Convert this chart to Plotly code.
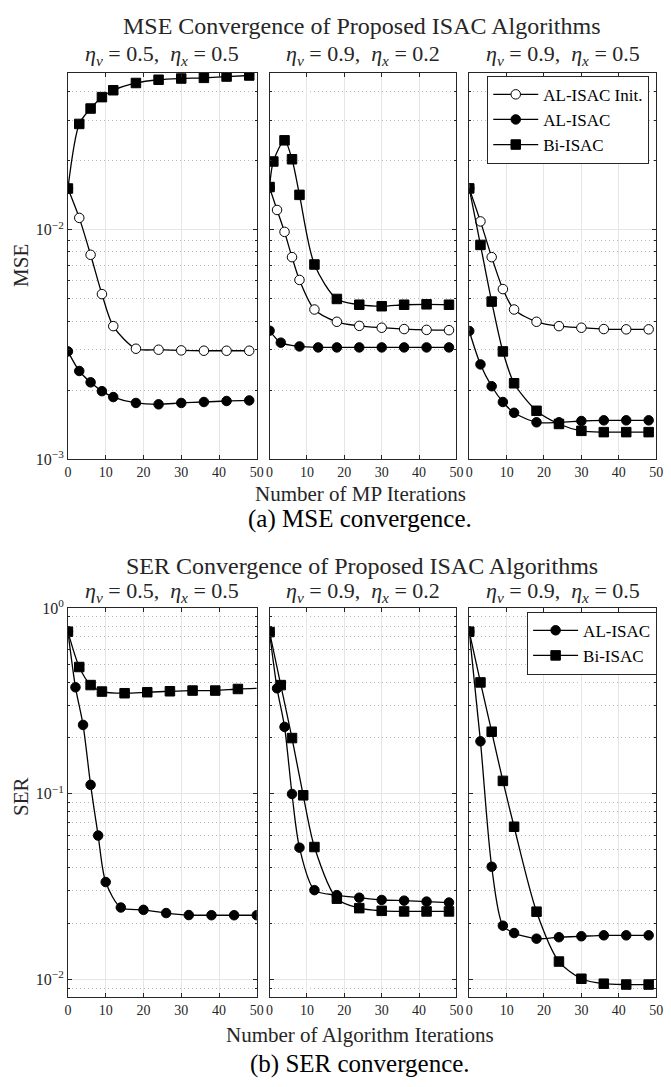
import plotly.graph_objects as go

# ---------------- DATA ----------------
# MSE (top), three panels
mse_x_p1 = [0, 3, 6, 9, 12, 18, 24, 30, 36, 42, 48]
mse_p1_init = [0.0151, 0.01125, 0.00777, 0.00524, 0.00380, 0.00303, 0.00300, 0.00298, 0.00297, 0.00297, 0.00297]
mse_p1_al = [0.00295, 0.002424, 0.002163, 0.00198, 0.001866, 0.001759, 0.001735, 0.001759, 0.001776, 0.001794, 0.001804]
mse_p1_bi = [0.0151, 0.02886, 0.03367, 0.03775, 0.04045, 0.0435, 0.04494, 0.0455, 0.0458, 0.0464, 0.0469]

mse_x_p2_init = [0, 2, 4, 6, 8, 12, 18, 24, 30, 36, 42, 48]
mse_p2_init = [0.01522, 0.01218, 0.00978, 0.00759, 0.00604, 0.00449, 0.00397, 0.00381, 0.00374, 0.00369, 0.00366, 0.00365]
mse_x_p2_al = [0, 3, 8, 13, 18, 24, 30, 36, 42, 48]
mse_p2_al = [0.00363, 0.00322, 0.00310, 0.00307, 0.00307, 0.00307, 0.00307, 0.00307, 0.00307, 0.00307]
mse_x_p2_bi = [0, 1, 4, 6, 8, 12, 18, 24, 30, 36, 42, 48]
mse_p2_bi = [0.01533, 0.0198, 0.02448, 0.02025, 0.01417, 0.00705, 0.00499, 0.00471, 0.00464, 0.00471, 0.00473, 0.00471]

mse_x_p3 = [0, 3, 6, 9, 12, 18, 24, 30, 36, 42, 48]
mse_p3_init = [0.01512, 0.01086, 0.00759, 0.00551, 0.00449, 0.00397, 0.00380, 0.00374, 0.00369, 0.00368, 0.00368]
mse_p3_al = [0.00362, 0.002589, 0.00208, 0.001776, 0.001594, 0.001449, 0.001449, 0.001468, 0.001478, 0.001478, 0.001478]
mse_p3_bi = [0.01512, 0.00858, 0.00486, 0.00295, 0.002143, 0.001626, 0.001425, 0.00133, 0.001313, 0.001313, 0.001313]

# SER (bottom), three panels
ser_x_p1_al = [0, 2, 4, 6, 8, 10, 14, 20, 26, 32, 38, 44, 50]
ser_p1_al = [0.7466, 0.3746, 0.235, 0.1118, 0.0596, 0.0335, 0.02443, 0.02373, 0.0228, 0.02225, 0.0222, 0.0222, 0.0222]
ser_x_p1_bi = [0, 3, 6, 9, 15, 21, 27, 33, 39, 45, 50]
ser_p1_bi = [0.7466, 0.4818, 0.3851, 0.3553, 0.3481, 0.3524, 0.3567, 0.3597, 0.3597, 0.3668, 0.370]

ser_x_p2_al = [0, 2, 4, 6, 8, 12, 18, 24, 30, 36, 42, 48]
ser_p2_al = [0.7374, 0.370, 0.2293, 0.0998, 0.0513, 0.0303, 0.02848, 0.02759, 0.02682, 0.02659, 0.02628, 0.02597]
ser_x_p2_bi = [0, 3, 6, 9, 12, 18, 24, 30, 36, 42, 48]
ser_p2_bi = [0.743, 0.385, 0.1996, 0.0982, 0.0517, 0.02726, 0.02423, 0.02344, 0.02327, 0.02327, 0.02327]

ser_x_p3 = [0, 3, 6, 9, 12, 18, 24, 30, 36, 42, 48]
ser_p3_al = [0.7466, 0.1917, 0.0405, 0.0195, 0.0178, 0.0166, 0.0169, 0.0171, 0.0173, 0.0173, 0.0173]
ser_p3_bi = [0.7466, 0.398, 0.216, 0.1174, 0.0665, 0.0232, 0.0125, 0.0101, 0.0095, 0.0094, 0.0094]

panel_titles = ["η<sub>v</sub>", "η<sub>x</sub>"]
panel_params = [("0.5", "0.5"), ("0.9", "0.2"), ("0.9", "0.5")]
x_ticks = [0, 10, 20, 30, 40, 50]
mse_yticks = [1e-3, 1e-2]
mse_yticktext = ["10<sup>−3</sup>", "10<sup>−2</sup>"]
ser_yticks = [1e-2, 1e-1, 1e0]
ser_yticktext = ["10<sup>−2</sup>", "10<sup>−1</sup>", "10<sup>0</sup>"]

# ---------------- LAYOUT GEOMETRY ----------------
W, H = 671, 1087
FONT = "Liberation Serif"
xdom = [(65 / W, 257 / W), (270 / W, 460 / W), (473 / W, 663 / W)]
ydom_top = (1 - 456.7 / H, 1 - 62.7 / H)
ydom_bot = (1 - 1004.3 / H, 1 - 608.3 / H)
mse_range = [-3, -1.316]
ser_range = [-2.093, 0]

fig = go.Figure()

MS = 9.5
LW = 1.3


def add(x, y, axn, name, symbol, fill, legend, show, sizes=None):
    xa = "x" if axn == 1 else f"x{axn}"
    ya = "y" if axn == 1 else f"y{axn}"
    fig.add_trace(go.Scatter(
        x=x, y=y, xaxis=xa, yaxis=ya, name=name, mode="lines+markers",
        line=dict(color="black", width=LW, shape="spline", smoothing=0.8),
        marker=dict(symbol=symbol, size=sizes if sizes is not None else MS, color=fill,
                    opacity=1, line=dict(color="black", width=1)),
        legend=legend, showlegend=show,
    ))


# top MSE
add(mse_x_p1, mse_p1_init, 1, "AL-ISAC Init.", "circle", "white", "legend", False)
add(mse_x_p1, mse_p1_al, 1, "AL-ISAC", "circle", "black", "legend", False)
add(mse_x_p1, mse_p1_bi, 1, "Bi-ISAC", "square", "black", "legend", False)
add(mse_x_p2_init, mse_p2_init, 2, "AL-ISAC Init.", "circle", "white", "legend", False)
add(mse_x_p2_al, mse_p2_al, 2, "AL-ISAC", "circle", "black", "legend", False)
add(mse_x_p2_bi, mse_p2_bi, 2, "Bi-ISAC", "square", "black", "legend", False)
add(mse_x_p3, mse_p3_init, 3, "AL-ISAC Init.", "circle", "white", "legend", True)
add(mse_x_p3, mse_p3_al, 3, "AL-ISAC", "circle", "black", "legend", True)
add(mse_x_p3, mse_p3_bi, 3, "Bi-ISAC", "square", "black", "legend", True)

# bottom SER
add(ser_x_p1_al, ser_p1_al, 4, "AL-ISAC", "circle", "black", "legend2", False)
bi_sizes = [MS if xv <= 45 else 0 for xv in ser_x_p1_bi]
add(ser_x_p1_bi, ser_p1_bi, 4, "Bi-ISAC", "square", "black", "legend2", False, sizes=bi_sizes)
add(ser_x_p2_al, ser_p2_al, 5, "AL-ISAC", "circle", "black", "legend2", False)
add(ser_x_p2_bi, ser_p2_bi, 5, "Bi-ISAC", "square", "black", "legend2", False)
add(ser_x_p3, ser_p3_al, 6, "AL-ISAC", "circle", "black", "legend2", True)
add(ser_x_p3, ser_p3_bi, 6, "Bi-ISAC", "square", "black", "legend2", True)

GRID = "#e6e6e6"
MINOR = "#b8b8b8"
AXC = "#262626"

mse_minor = [k * 1e-3 for k in range(2, 10)] + [k * 1e-2 for k in range(2, 5)]
ser_minor = [9e-3] + [k * 1e-2 for k in range(2, 10)] + [k * 1e-1 for k in range(2, 10)]

layout = dict(
    width=W, height=H, margin=dict(l=0, r=0, t=0, b=0),
    paper_bgcolor="white", plot_bgcolor="white",
    font=dict(family=FONT, color="#262626"),
)

for i in range(6):
    n = i + 1
    xk = "xaxis" if n == 1 else f"xaxis{n}"
    yk = "yaxis" if n == 1 else f"yaxis{n}"
    top = i < 3
    layout[xk] = dict(
        domain=list(xdom[i % 3]), anchor="y" if n == 1 else f"y{n}",
        range=[0, 50], tickvals=x_ticks, ticks="inside", ticklen=4, tickcolor=AXC,
        showline=True, linecolor=AXC, linewidth=1, mirror="ticks",
        showgrid=True, gridcolor=GRID, gridwidth=1, zeroline=False,
        tickfont=dict(family=FONT, size=14, color="#262626"),
    )
    layout[yk] = dict(
        domain=list(ydom_top if top else ydom_bot), anchor="x" if n == 1 else f"x{n}",
        type="log", range=mse_range if top else ser_range,
        tickvals=mse_yticks if top else ser_yticks,
        ticktext=mse_yticktext if top else ser_yticktext,
        showticklabels=(i % 3 == 0),
        ticks="inside", ticklen=4, tickcolor=AXC,
        showline=True, linecolor=AXC, linewidth=1, mirror="ticks",
        showgrid=True, gridcolor=GRID, gridwidth=1, zeroline=False,
        tickfont=dict(family=FONT, size=16, color="#262626"),
        minor=dict(tickvals=mse_minor if top else ser_minor, showgrid=True,
                   gridcolor=MINOR, griddash="1px,3px", gridwidth=1,
                   ticks="inside", ticklen=2, tickcolor=AXC),
    )

layout["legend"] = dict(
    x=656 / W, y=1 - 66 / H, xanchor="right", yanchor="top",
    bgcolor="white", bordercolor=AXC, borderwidth=1,
    font=dict(family=FONT, size=17, color="black"),
    tracegroupgap=0, itemwidth=45,
)
layout["legend2"] = dict(
    x=664 / W, y=1 - 612 / H, xanchor="right", yanchor="top",
    bgcolor="white", bordercolor=AXC, borderwidth=1,
    font=dict(family=FONT, size=17, color="black"),
    tracegroupgap=0, itemwidth=45,
)

ann = []
def text(x, y, s, size, angle=0, color="#262626", family=FONT):
    ann.append(dict(x=x / W, y=1 - y / H, xref="paper", yref="paper", text=s,
                    showarrow=False, xanchor="center", yanchor="middle",
                    textangle=angle, font=dict(family=family, size=size, color=color)))

text(364, 15, "MSE Convergence of Proposed ISAC Algorithms", 24)
text(364, 565, "SER Convergence of Proposed ISAC Algorithms", 24)
for i, (v, xx) in enumerate(panel_params):
    cx = (xdom[i][0] + xdom[i][1]) / 2 * W
    s = f"<i>{panel_titles[0]}</i> = {v},\u2002<i>{panel_titles[1]}</i> = {xx}"
    text(cx, 45, s, 22)
    text(cx, 592, s, 22)
text(362, 492, "Number of MP Iterations", 21)
text(362, 1043, "Number of Algorithm Iterations", 21)
text(362, 518, "(a) MSE convergence.", 25, color="black")
text(362, 1073, "(b) SER convergence.", 25, color="black")
text(18, 259, "MSE", 21, angle=-90)
text(18, 800, "SER", 21, angle=-90)
layout["annotations"] = ann

fig.update_layout(**layout)
fig.write_html("out.html")
